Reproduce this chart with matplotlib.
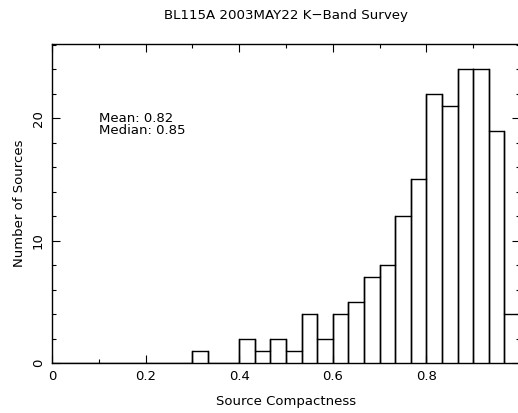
import numpy as np
import matplotlib.pyplot as plt
from matplotlib.ticker import MultipleLocator

# histogram of source compactness, bins of width 1/30
bin_edges = np.arange(0, 31) / 30.0
counts = [0, 0, 0, 0, 0, 0, 0, 0, 0, 1,
          0, 0, 2, 1, 2, 1, 4, 2, 4, 5,
          7, 8, 12, 15, 22, 21, 24, 24, 19, 4]
mean_val = 0.82
median_val = 0.85

plt.rcParams['font.family'] = 'DejaVu Sans'
plt.rcParams['font.size'] = 9.5

fig = plt.figure(figsize=(5.18, 4.13), dpi=100)
ax = fig.add_axes([52 / 518, 50 / 413, 468 / 518, 318.7 / 413])

ax.stairs(counts, bin_edges, color='black', linewidth=1.0)
# vertical bin separators down to the axis
for left, right, c in zip(bin_edges[:-1], bin_edges[1:], counts):
    if c > 0:
        ax.plot([left, left], [0, c], color='black', linewidth=1.0)
        ax.plot([right, right], [0, c], color='black', linewidth=1.0)

ax.set_xlim(0, 1.0)
ax.set_ylim(0, 26.05)
ax.set_xticks([0, 0.2, 0.4, 0.6, 0.8])
ax.set_xticklabels(['0', '0.2', '0.4', '0.6', '0.8'])
ax.xaxis.set_minor_locator(MultipleLocator(0.1))
ax.yaxis.set_major_locator(MultipleLocator(10))
ax.yaxis.set_minor_locator(MultipleLocator(2))
ax.tick_params(which='both', direction='in', top=True, right=True, width=0.8)
ax.tick_params(which='major', length=6, pad=5)
ax.tick_params(which='minor', length=3)
for lbl in ax.get_yticklabels():
    lbl.set_rotation(90)
    lbl.set_va('center')
for s in ax.spines.values():
    s.set_linewidth(1.0)

ax.text(0.1, 20, f'Mean: {mean_val:.2f}', ha='left', va='center')
ax.text(0.1, 19, f'Median: {median_val:.2f}', ha='left', va='center')

ax.set_title('BL115A 2003MAY22 K\u2212Band Survey', pad=18, fontsize=9.6)
ax.set_xlabel('Source Compactness', labelpad=9)
ax.set_ylabel('Number of Sources', labelpad=4)

fig.savefig('out.png', dpi=100)
